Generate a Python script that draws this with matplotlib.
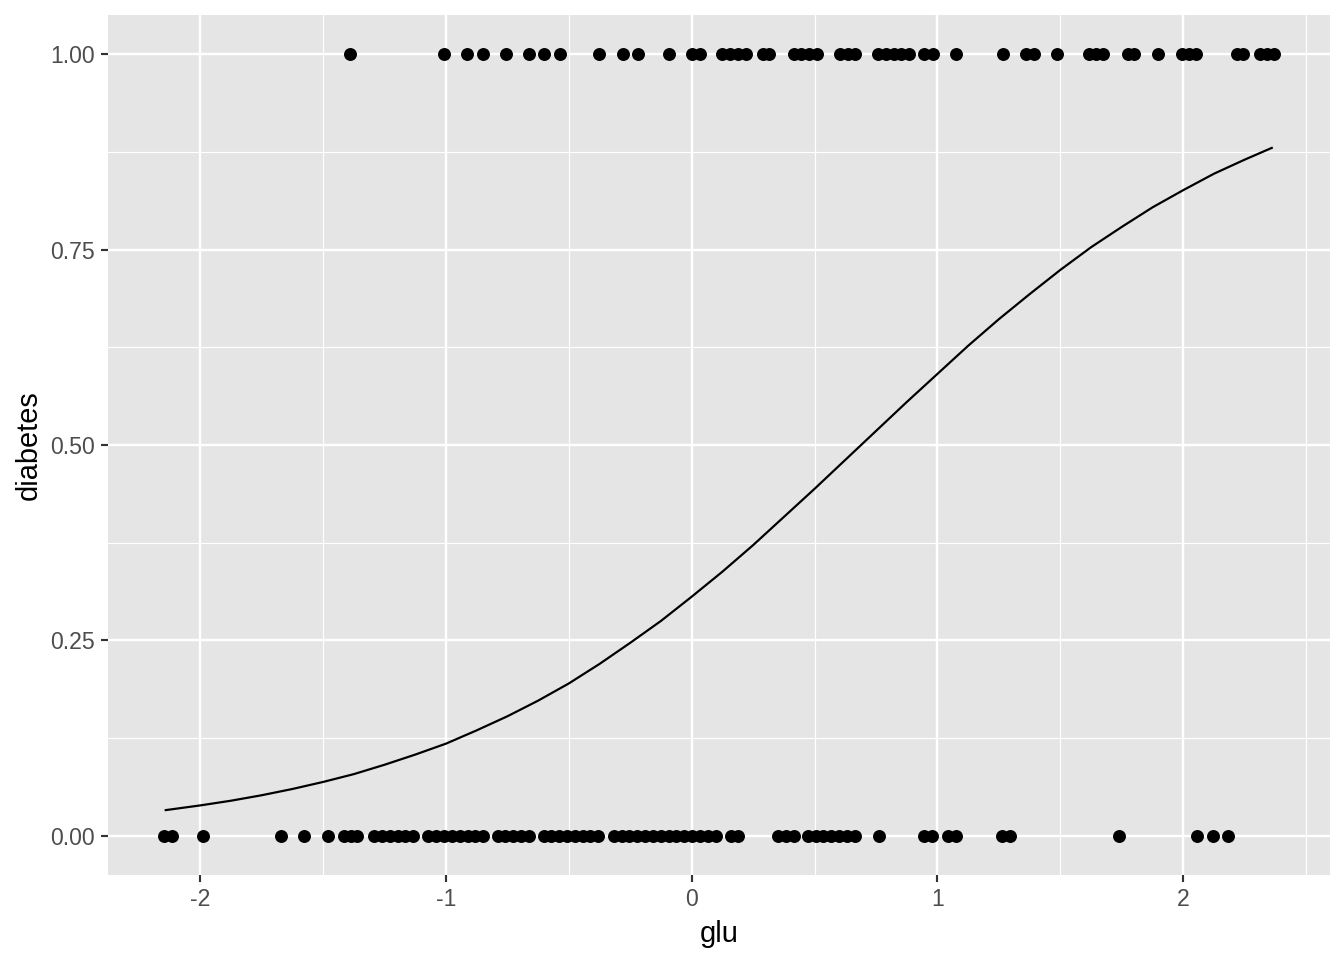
import matplotlib
matplotlib.use("Agg")
import matplotlib.pyplot as plt
import numpy as np

# standardized glu values, diabetes = 1
glu_yes = [-1.392, -1.009, -0.916, -0.851, -0.757, -0.663, -0.602, -0.537, -0.379, -0.281,
           -0.220, -0.094, 0.000, 0.033, 0.122, 0.155, 0.187, 0.220, 0.289, 0.313,
           0.415, 0.444, 0.476, 0.509, 0.602, 0.635, 0.663, 0.757, 0.790, 0.822,
           0.851, 0.883, 0.944, 0.981, 1.074, 1.266, 1.359, 1.392, 1.486, 1.616,
           1.644, 1.673, 1.775, 1.799, 1.897, 1.994, 2.023, 2.051, 2.218, 2.242,
           2.312, 2.340, 2.369]

# standardized glu values, diabetes = 0
glu_no = [-2.149, -2.116, -1.990, -1.673, -1.579, -1.481, -1.416, -1.388, -1.360, -1.294,
          -1.262, -1.229, -1.197, -1.168, -1.136, -1.074, -1.042, -1.009, -0.977, -0.944,
          -0.912, -0.883, -0.851, -0.790, -0.761, -0.729, -0.696, -0.663, -0.602, -0.574,
          -0.541, -0.509, -0.476, -0.444, -0.415, -0.383, -0.317, -0.285, -0.256, -0.224,
          -0.191, -0.159, -0.126, -0.094, -0.065, -0.033, 0.000, 0.033, 0.065, 0.098,
          0.159, 0.187, 0.350, 0.383, 0.415, 0.472, 0.505, 0.533, 0.566, 0.598,
          0.631, 0.663, 0.761, 0.944, 0.977, 1.042, 1.074, 1.262, 1.294, 1.738,
          2.055, 2.120, 2.182]

# fitted curve
curve_x = [-2.14, -2.0, -1.875, -1.75, -1.625, -1.5, -1.375, -1.25, -1.125, -1.0,
           -0.875, -0.75, -0.625, -0.5, -0.375, -0.25, -0.125, 0.0, 0.125, 0.25,
           0.375, 0.5, 0.625, 0.75, 0.875, 1.0, 1.125, 1.25, 1.375, 1.5,
           1.625, 1.75, 1.875, 2.0, 2.125, 2.25, 2.36]
curve_p = [0.033, 0.039, 0.045, 0.052, 0.060, 0.069, 0.079, 0.091, 0.104, 0.118,
           0.135, 0.153, 0.173, 0.195, 0.220, 0.247, 0.275, 0.306, 0.338, 0.372,
           0.408, 0.444, 0.481, 0.518, 0.555, 0.591, 0.627, 0.661, 0.693, 0.724,
           0.753, 0.779, 0.804, 0.826, 0.847, 0.865, 0.880]

x_ticks = [-2, -1, 0, 1, 2]
y_ticks = [0.0, 0.25, 0.5, 0.75, 1.0]
y_tick_labels = ["0.00", "0.25", "0.50", "0.75", "1.00"]

plt.rcParams['font.family'] = ['Liberation Sans', 'DejaVu Sans']
plt.rcParams['axes.unicode_minus'] = False

fig = plt.figure(figsize=(1344 / 144, 960 / 144), dpi=144)
ax = fig.add_axes([108 / 1344, 1 - 875 / 960, (1330 - 108) / 1344, (875 - 15) / 960])
ax.set_facecolor('#E5E5E5')
for s in ax.spines.values():
    s.set_visible(False)

# grid
ax.set_xticks(x_ticks)
ax.set_xticks([-1.5, -0.5, 0.5, 1.5, 2.5], minor=True)
ax.set_yticks(y_ticks)
ax.set_yticks([0.125, 0.375, 0.625, 0.875], minor=True)
ax.set_yticklabels(y_tick_labels)
ax.grid(which='major', color='white', linewidth=1.2)
ax.grid(which='minor', color='white', linewidth=0.6)
ax.set_axisbelow(True)
ax.tick_params(which='minor', length=0)
ax.tick_params(which='major', length=3.5, width=1.07, color='#333333',
               labelcolor='#4D4D4D', labelsize=11.5, pad=3)

ax.scatter(glu_yes, [1] * len(glu_yes), s=42, color='black', linewidths=0, zorder=3)
ax.scatter(glu_no, [0] * len(glu_no), s=42, color='black', linewidths=0, zorder=3)
ax.plot(curve_x, curve_p, color='black', linewidth=1.1, zorder=4)

ax.set_xlim(-2.375, 2.597)
ax.set_ylim(-0.05, 1.05)
ax.set_xlabel('glu', fontsize=14.5, color='black', labelpad=4.5)
ax.set_ylabel('diabetes', fontsize=14.5, color='black', labelpad=4)

fig.savefig('out.png', dpi=144)
